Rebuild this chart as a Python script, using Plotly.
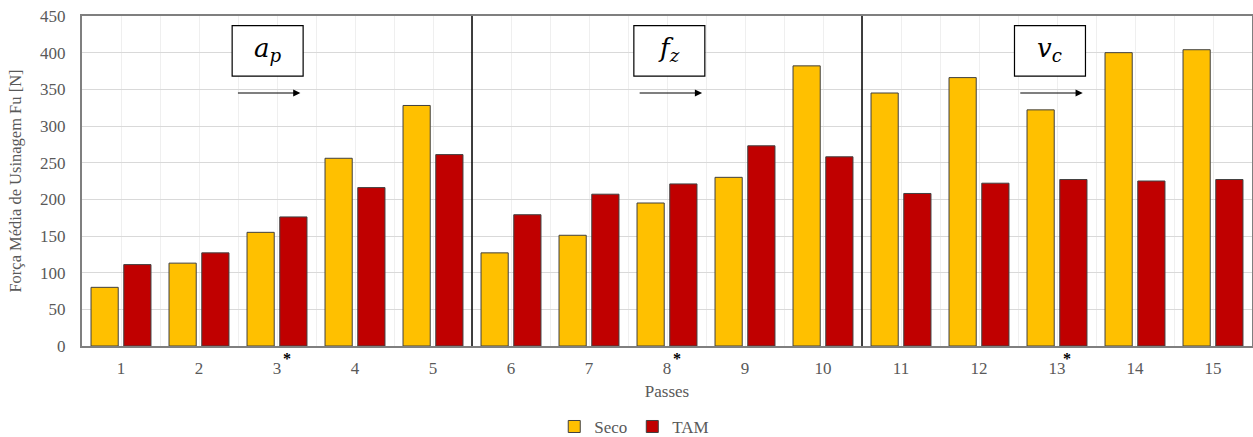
import plotly.graph_objects as go

passes = [1, 2, 3, 4, 5, 6, 7, 8, 9, 10, 11, 12, 13, 14, 15]
seco = [80, 113, 155, 256, 328, 127, 151, 195, 230, 382, 345, 366, 322, 400, 404]
tam = [111, 127, 176, 216, 261, 179, 207, 221, 273, 258, 208, 222, 227, 225, 227]
starred = [3, 8, 13]
dividers = [5.5, 10.5]
params = ["<i>a</i><sub><i>p</i></sub>", "<i>f</i><sub><i>z</i></sub>", "<i>v</i><sub><i>c</i></sub>"]
param_x = [2.88, 8.03, 12.91]

FONT = "Liberation Serif"
GRAY = "#595959"

fig = go.Figure()
fig.add_trace(go.Bar(x=passes, y=seco, name="Seco", marker=dict(color="#FFC000", line=dict(color="#404040", width=1))))
fig.add_trace(go.Bar(x=passes, y=tam, name="TAM", marker=dict(color="#C00000", line=dict(color="#404040", width=1))))

shapes = []
for d in dividers:
    shapes.append(dict(type="line", xref="x", yref="paper", x0=d, x1=d, y0=0, y1=1,
                       line=dict(color="#000000", width=1.5)))
annotations = []
for txt, cx in zip(params, param_x):
    shapes.append(dict(type="rect", xref="x", yref="y", x0=cx - 0.455, x1=cx + 0.455, y0=368, y1=437,
                       line=dict(color="#000000", width=1.2), fillcolor="white", layer="above"))
    annotations.append(dict(x=cx, y=404, xref="x", yref="y", text=txt, showarrow=False,
                            font=dict(family="DejaVu Serif", size=26, color="#000000")))
    annotations.append(dict(x=cx + 0.42, y=345, ax=cx - 0.4, ay=345, xref="x", yref="y", axref="x", ayref="y",
                            text="", showarrow=True, arrowhead=2, arrowsize=1.2, arrowwidth=1.2,
                            arrowcolor="#000000"))
for s in starred:
    annotations.append(dict(x=s + 0.13, y=0, xref="x", yref="paper", yanchor="middle", yshift=-12.5,
                            text="<b>*</b>", showarrow=False,
                            font=dict(family=FONT, size=16, color="#000000")))

fig.update_layout(
    width=1253, height=437,
    margin=dict(l=82, r=1, t=16, b=91),
    paper_bgcolor="white", plot_bgcolor="white",
    barmode="group", bargap=0.16, bargroupgap=0.17,
    font=dict(family=FONT, size=17, color=GRAY),
    shapes=shapes, annotations=annotations,
    legend=dict(orientation="h", x=0.472, xanchor="center", yref="container", y=0.023, yanchor="middle",
                font=dict(family=FONT, size=17, color=GRAY), itemwidth=30, tracegroupgap=0),
    xaxis=dict(range=[0.5, 15.5], tickmode="linear", tick0=1, dtick=1, automargin=False,
               showgrid=True, gridcolor="#EFEFEF", gridwidth=1,
               minor=dict(tick0=0.5, dtick=1, showgrid=True, gridcolor="#EFEFEF", gridwidth=1),
               showline=True, linecolor="#7F7F7F", linewidth=2, mirror=True,
               ticks="outside", ticklen=6, tickcolor="rgba(0,0,0,0)", ticklabeloverflow="allow",
               tickfont=dict(family=FONT, size=17, color=GRAY),
               title=dict(text="Passes", font=dict(family=FONT, size=17, color=GRAY), standoff=8),
               zeroline=False),
    yaxis=dict(range=[0, 450], tickmode="linear", tick0=0, dtick=50, automargin=False,
               showgrid=True, gridcolor="#D9D9D9", gridwidth=1,
               showline=True, linecolor="#7F7F7F", linewidth=2, mirror=True,
               ticks="outside", ticklen=11, tickcolor="rgba(0,0,0,0)", ticklabeloverflow="allow",
               tickfont=dict(family=FONT, size=17, color=GRAY),
               title=dict(text="Força Média de Usinagem Fu [N]", font=dict(family=FONT, size=16.5, color=GRAY), standoff=14),
               zeroline=False),
)
fig.write_html("out.html", config={"displayModeBar": False},
               post_script="document.body.style.margin='0';document.body.style.overflow='hidden';")
